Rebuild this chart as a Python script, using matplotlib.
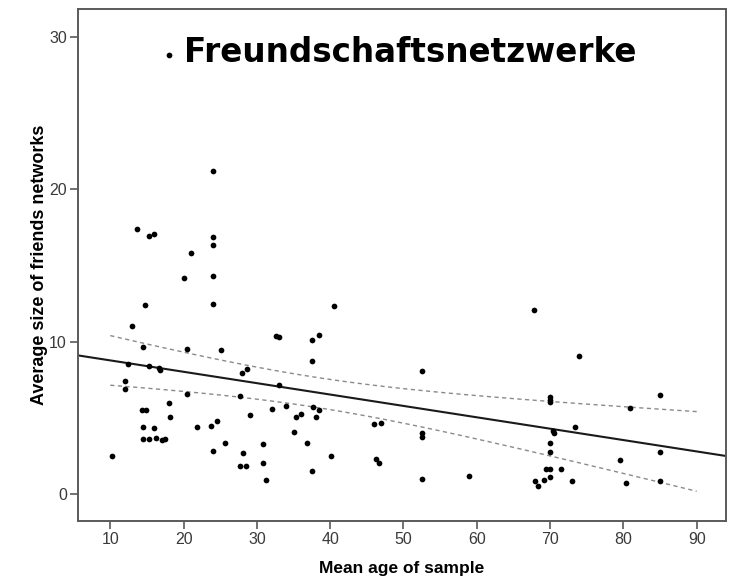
import numpy as np
import matplotlib
matplotlib.use("Agg")
import matplotlib.pyplot as plt

plt.rcParams['font.family'] = ['Liberation Sans Narrow', 'Liberation Sans', 'DejaVu Sans']

# mean age of each sample and average friends-network size
mean_age = [
    18.0, 24.0, 13.7, 15.3, 16.0, 24.0, 24.0, 21.0, 20.1, 24.0,
    14.8, 24.0, 12.95, 14.5, 20.4, 25.1, 12.36, 15.3, 16.6, 16.8,
    28.0, 28.6, 12.0, 12.0, 20.4, 27.7, 14.3, 14.9, 18.0, 18.2,
    29.0, 14.45, 16.0, 21.8, 23.7, 24.6, 14.45, 15.3, 16.2, 17.0,
    17.5, 10.3, 24.0, 25.7, 28.1, 27.7, 28.5, 30.9, 30.9, 31.2,
    40.5, 32.6, 33.0, 38.5, 37.5, 37.5, 52.5, 33.0, 32.0, 34.0,
    35.4, 36.0, 37.7, 38.5, 38.1, 46.0, 47.0, 52.5, 52.5, 35.0,
    36.8, 40.1, 46.2, 46.7, 37.5, 52.5, 67.8, 74.0, 70.0, 70.0,
    70.0, 73.4, 70.35, 70.6, 70.0, 70.0, 59.0, 69.5, 70.0, 71.5,
    68.0, 68.4, 69.2, 70.0, 73.0, 85.0, 80.9, 85.0, 79.6, 80.3, 85.0,
]
network_size = [
    28.8, 21.2, 17.4, 16.96, 17.05, 16.9, 16.35, 15.8, 14.2, 14.33,
    12.39, 12.46, 11.05, 9.63, 9.5, 9.48, 8.52, 8.4, 8.27, 8.16,
    7.94, 8.19, 7.42, 6.92, 6.54, 6.41, 5.54, 5.54, 5.97, 5.08,
    5.17, 4.38, 4.31, 4.38, 4.46, 4.81, 3.59, 3.61, 3.68, 3.57,
    3.61, 2.5, 2.84, 3.35, 2.71, 1.86, 1.86, 3.28, 2.01, 0.94,
    12.34, 10.35, 10.3, 10.46, 10.09, 8.73, 8.05, 7.18, 5.56, 5.78,
    5.08, 5.23, 5.73, 5.49, 5.08, 4.6, 4.68, 4.03, 3.74, 4.05,
    3.35, 2.52, 2.28, 2.06, 1.49, 0.98, 12.1, 9.08, 6.35, 6.2,
    6.05, 4.38, 4.14, 4.03, 3.37, 2.76, 1.18, 1.64, 1.64, 1.64,
    0.85, 0.55, 0.92, 1.1, 0.83, 6.48, 5.67, 2.76, 2.25, 0.74, 0.83,
]

# linear fit and 95% confidence band for the mean
fit_intercept = 9.52
fit_slope = -0.0747
ci_center = 37.9      # band is narrowest here
ci_min_half = 0.986   # half width at the centre
ci_spread = 0.00216   # growth of squared half width per squared year
ci_range = (10, 90)

xticks = [10, 20, 30, 40, 50, 60, 70, 80, 90]
yticks = [0, 10, 20, 30]

fig = plt.figure(figsize=(7.34, 5.78), dpi=100)
ax = fig.add_axes([0.1063, 0.0986, 0.8828, 0.8858])

xlim = (5.6, 94.0)
ax.set_xlim(*xlim)
ax.set_ylim(-1.77, 31.84)

ax.scatter(mean_age, network_size, s=17, color='black', zorder=3, linewidths=0)

xl = np.linspace(xlim[0], xlim[1], 50)
ax.plot(xl, fit_intercept + fit_slope * xl, color='#1a1a1a', lw=1.5, zorder=2)

xb = np.linspace(ci_range[0], ci_range[1], 100)
half = np.sqrt(ci_min_half ** 2 + ci_spread * (xb - ci_center) ** 2)
yb = fit_intercept + fit_slope * xb
for band in (yb + half, yb - half):
    ax.plot(xb, band, color='#8a8a8a', lw=1.0, dashes=(3, 2.5), zorder=2)

ax.set_xticks(xticks)
ax.set_yticks(yticks)
for sp in ax.spines.values():
    sp.set_color('#5a5a5a')
    sp.set_linewidth(1.4)
ax.tick_params(direction='out', length=6, width=1.2, color='#5a5a5a',
               labelcolor='#3a3a3a', labelsize=11.5, pad=2)

ax.set_xlabel('Mean age of sample', fontsize=12.5, fontweight='bold', labelpad=10)
ax.set_ylabel('Average size of friends networks', fontsize=13, fontweight='bold', labelpad=1)

ax.text(0.512, 0.916, 'Freundschaftsnetzwerke', transform=ax.transAxes,
        ha='center', va='center', fontsize=23.5, fontweight='bold',
        family='DejaVu Sans', color='black')

fig.savefig('out.png', dpi=100)
